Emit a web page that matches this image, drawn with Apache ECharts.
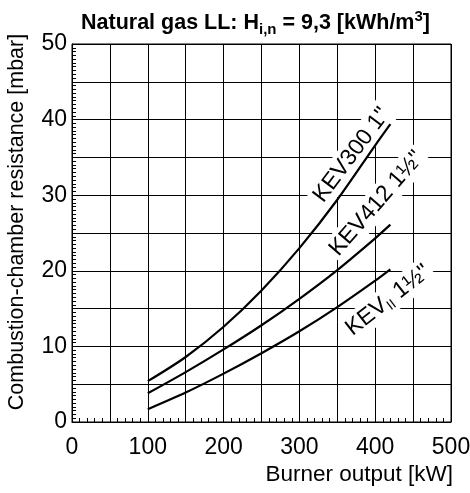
<!DOCTYPE html>
<html><head><meta charset="utf-8">
<script src="https://cdn.jsdelivr.net/npm/echarts@6/dist/echarts.min.js"></script>
<style>html,body{margin:0;padding:0;background:#fff}#c{width:470px;height:493px}</style>
</head><body><div id="c"></div>
<script>
const burnerOutput = [100, 150, 200, 250, 300, 350, 400, 420];
const kev300 = [5.4, 8.6, 12.6, 17.4, 23.0, 29.4, 36.6, 39.4];
const kev412 = [3.8, 6.6, 9.6, 12.8, 16.3, 20.1, 24.3, 26.1];
const kevII = [1.7, 3.9, 6.4, 9.1, 12.0, 15.2, 18.7, 20.2];
const xTickLabels = [0, 100, 200, 300, 400, 500];
const yTickLabels = [0, 10, 20, 30, 40, 50];
const curveNames = ['KEV300 1"', 'KEV412 1½"', 'KEVII 1½"'];
const curveLabelRich = ['{m|KEV300 1"}', '{m|KEV412 1½"}', '{m|KEV}{s|II}{m| 1½"}'];
const curveLabelAt = [[369, 35.3], [402, 28.9], [417, 16.1]];
const curveLabelAngle = [53, 49, 38];

const FONT = '"Liberation Sans", Arial, Helvetica, sans-serif';
const chart = echarts.init(document.getElementById('c'), null, {renderer: 'canvas'});

function pairs(xs, ys) { return xs.map((x, i) => [x, ys[i]]); }
const seriesData = [kev300, kev412, kevII];

const option = {
  animation: false,
  backgroundColor: '#fff',
  title: {
    text: '{b|Natural gas LL: H}{sub|i,n}{b| = 9,3 [kWh/m}{sup|3}{b|]}',
    left: 76,
    top: 4,
    textStyle: {
      rich: {
        b: {fontFamily: FONT, fontWeight: 'bold', fontSize: 21.5, color: '#000', lineHeight: 28, verticalAlign: 'middle'},
        sub: {fontFamily: FONT, fontWeight: 'bold', fontSize: 15, color: '#000', lineHeight: 15, verticalAlign: 'bottom'},
        sup: {fontFamily: FONT, fontWeight: 'bold', fontSize: 15, color: '#000', lineHeight: 15, verticalAlign: 'top'}
      }
    }
  },
  grid: {left: 72, right: 19, top: 44, bottom: 71, containLabel: false, outerBoundsMode: 'none',
         show: true, borderColor: '#000', borderWidth: 1, backgroundColor: 'transparent'},
  xAxis: {
    type: 'value', min: 0, max: 500, interval: 50,
    name: 'Burner output [kW]', nameLocation: 'end', nameGap: 2,
    nameTextStyle: {fontFamily: FONT, fontSize: 22.5, color: '#000', align: 'right', verticalAlign: 'top', padding: [41, 0, 0, 0]},
    axisLine: {lineStyle: {color: '#000', width: 1}},
    axisTick: {show: false, inside: true},
    minorTick: {show: true, splitNumber: 5, length: 4, lineStyle: {color: '#000', width: 1}},
    splitLine: {show: true, lineStyle: {color: '#000', width: 1}},
    axisLabel: {
      fontFamily: FONT, fontSize: 23, color: '#000', margin: 14,
      formatter: v => xTickLabels.includes(v) ? String(v) : ''
    }
  },
  yAxis: {
    type: 'value', min: 0, max: 50, interval: 5,
    name: 'Combustion-chamber resistance [mbar]', nameLocation: 'middle', nameGap: 44,
    nameTextStyle: {fontFamily: FONT, fontSize: 21.5, color: '#000', padding: [0, 0, 0, 22]},
    axisLine: {lineStyle: {color: '#000', width: 1}},
    axisTick: {show: false, inside: true},
    minorTick: {show: true, splitNumber: 10, length: 4, lineStyle: {color: '#000', width: 1}},
    splitLine: {show: true, lineStyle: {color: '#000', width: 1}},
    axisLabel: {
      fontFamily: FONT, fontSize: 23, color: '#000', margin: 5,
      formatter: v => yTickLabels.includes(v) ? String(v) : ''
    }
  },
  series: seriesData.map((d, i) => ({
    name: curveNames[i], type: 'line', smooth: 0.3, showSymbol: false, z: 3,
    data: pairs(burnerOutput, d),
    lineStyle: {color: '#000', width: 2.2}
  }))
};
chart.setOption(option);

const graphics = curveLabelRich.map((t, i) => {
  const p = chart.convertToPixel({gridIndex: 0}, curveLabelAt[i]);
  return {
    type: 'text', x: p[0], y: p[1], rotation: curveLabelAngle[i] * Math.PI / 180, z: 1,
    style: {
      text: t, align: 'center', verticalAlign: 'middle',
      backgroundColor: '#fff', padding: [1, 3, 1, 3],
      rich: {
        m: {fontFamily: FONT, fontSize: 23, fill: '#000', color: '#000', lineHeight: 26, verticalAlign: 'middle'},
        s: {fontFamily: FONT, fontSize: 14, fill: '#000', color: '#000', lineHeight: 14, verticalAlign: 'bottom'}
      }
    }
  };
});
chart.setOption({graphic: graphics});
</script>
</body></html>
